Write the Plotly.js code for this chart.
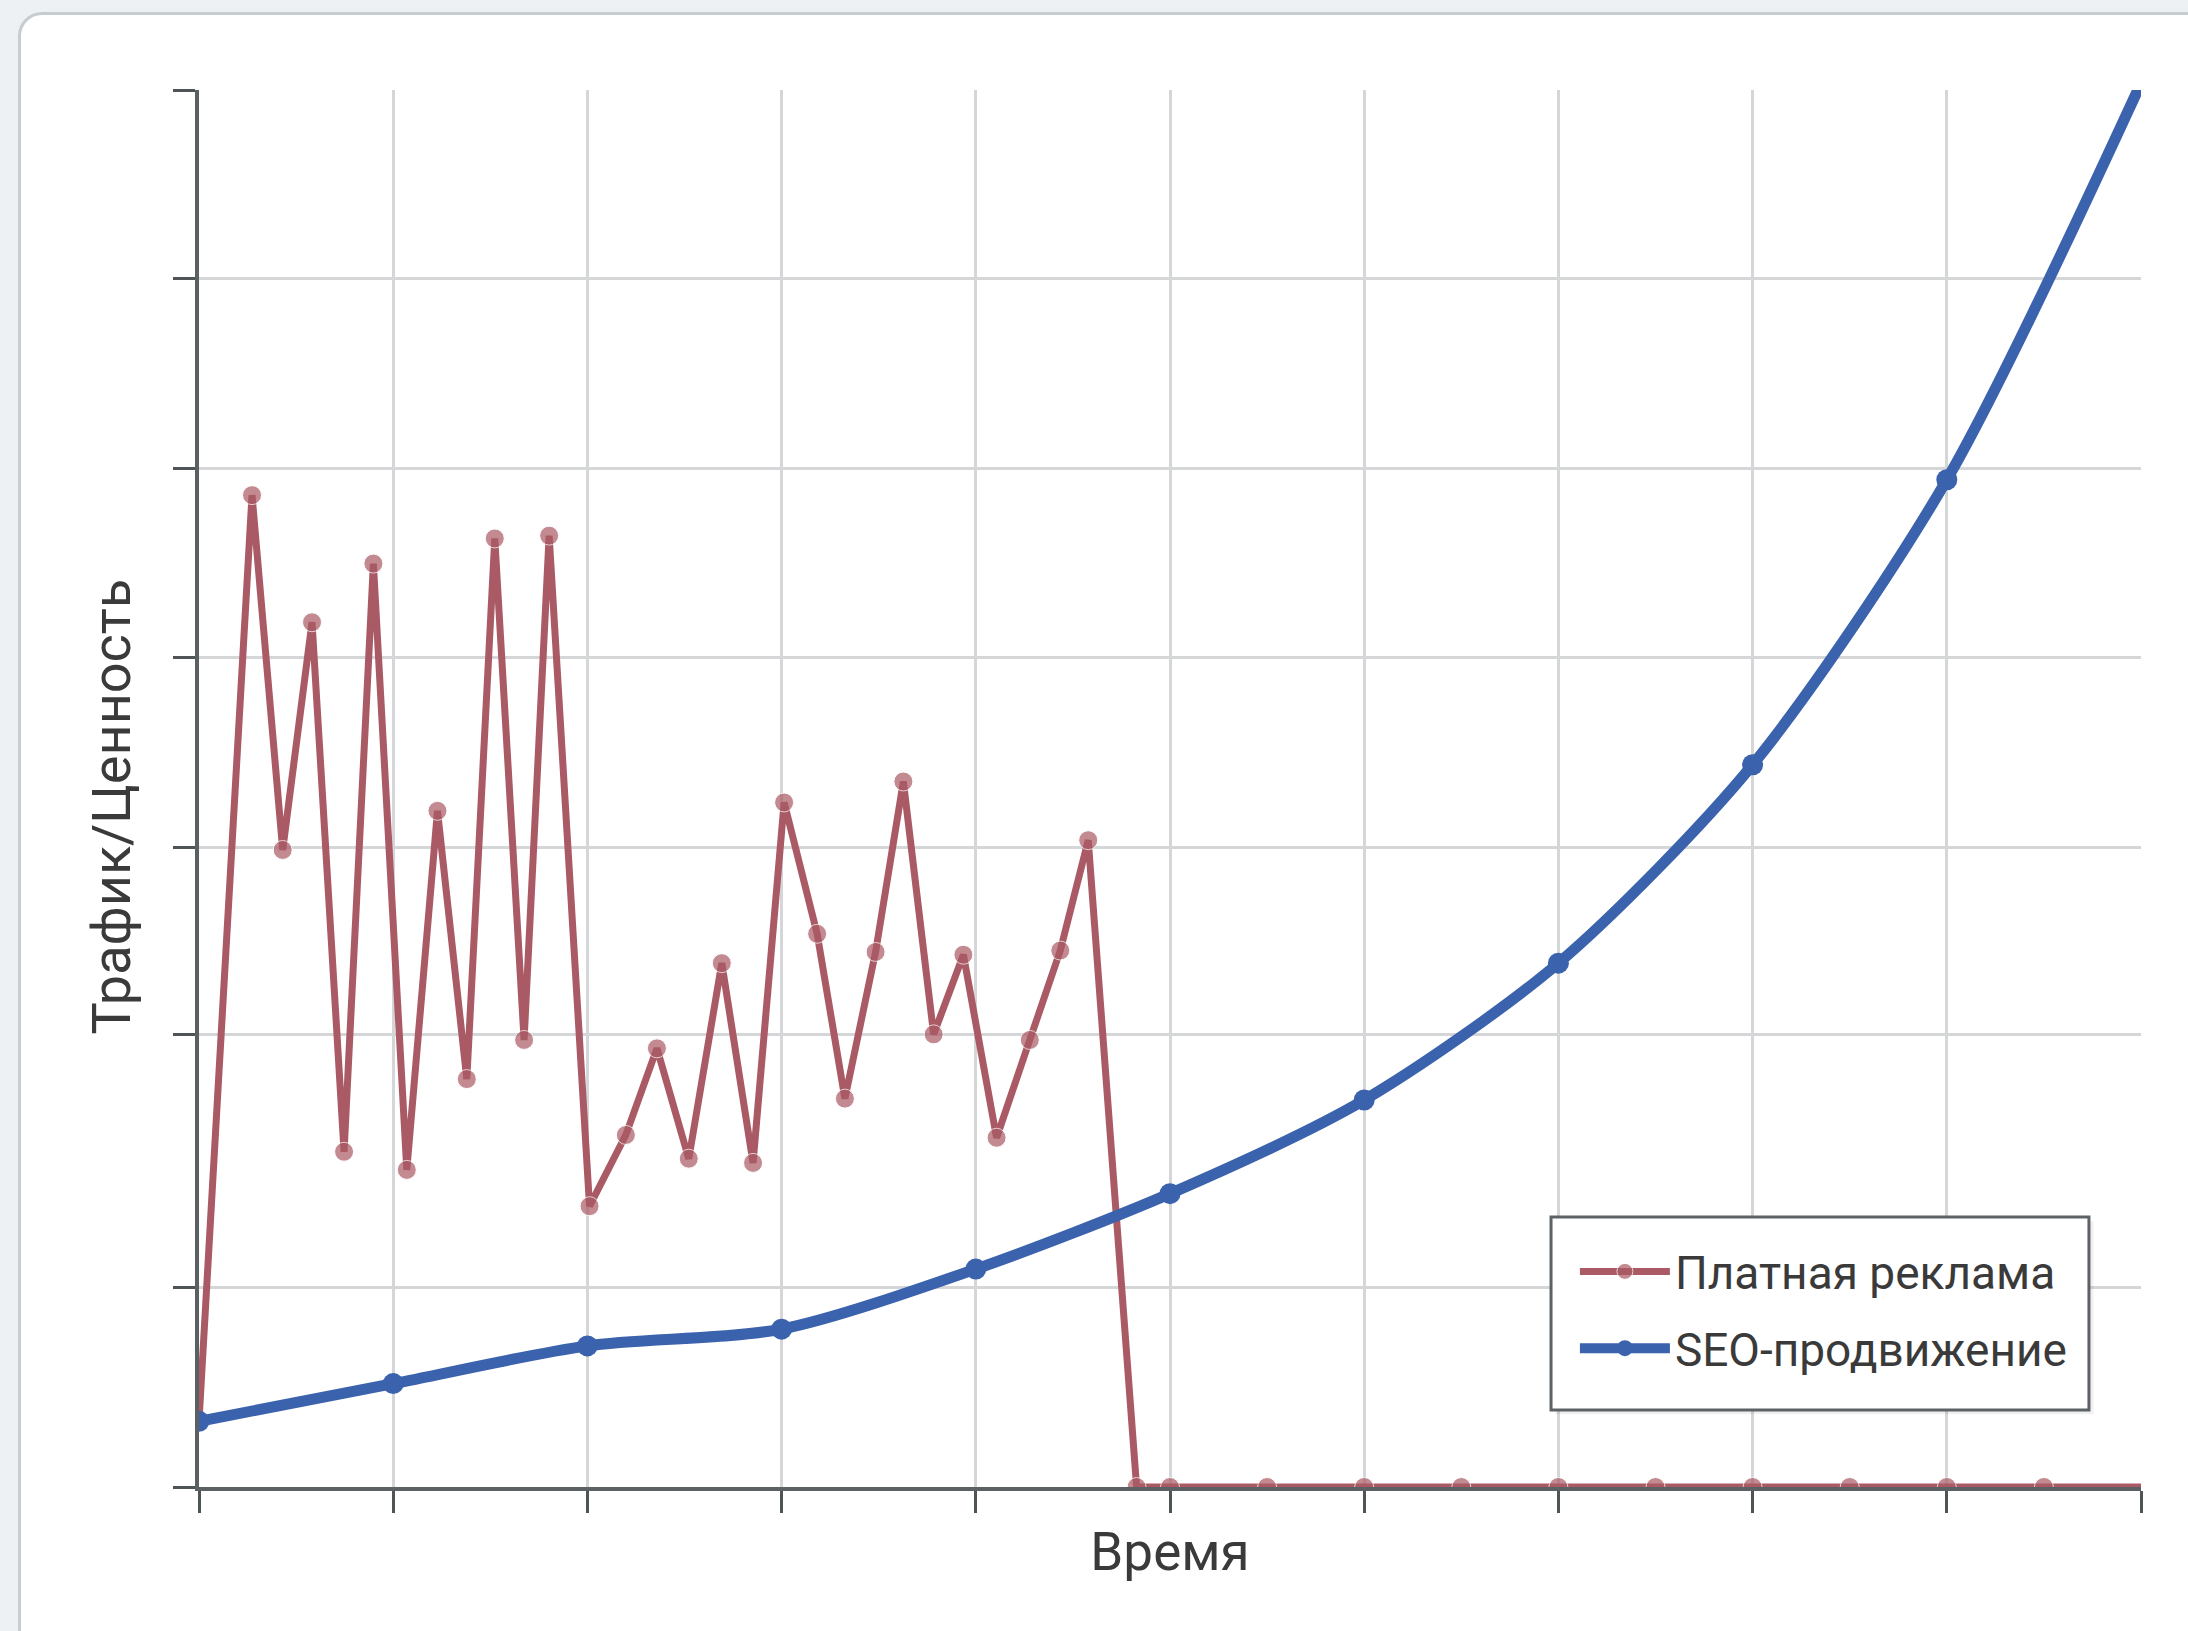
<!DOCTYPE html>
<html>
<head>
<meta charset="utf-8">
<script src="https://cdn.plot.ly/plotly-3.0.1.min.js"></script>
<style>
  html, body { margin:0; padding:0; background:#eef1f3; width:2188px; height:1631px; overflow:hidden; }
  #card { position:absolute; left:18px; top:12px; width:2200px; height:1660px; background:#ffffff;
          border:3px solid #c6cdd1; border-radius:24px; box-sizing:border-box; }
  #chart { position:absolute; left:0; top:0; width:2188px; height:1631px; }
</style>
</head>
<body>
<div id="card"></div>
<div id="chart"></div>
<script>
// --- data ---
const paidX = [0, 0.273, 0.431, 0.582, 0.747, 0.898, 1.070, 1.228, 1.379, 1.523, 1.674, 1.803,
               2.011, 2.198, 2.358, 2.522, 2.692, 2.853, 3.013, 3.183, 3.326, 3.484, 3.627, 3.783,
               3.936, 4.107, 4.278, 4.435, 4.579, 4.828, 5.0, 5.5, 6.0, 6.5, 7.0, 7.5, 8.0, 8.5, 9.0, 9.5, 10];
const paidY = [4.7, 71.0, 45.6, 61.9, 24.0, 66.1, 22.7, 48.4, 29.2, 67.9, 32.0, 68.1,
               20.1, 25.2, 31.4, 23.5, 37.5, 23.2, 49.0, 39.6, 27.8, 38.3, 50.5, 32.4,
               38.1, 25.0, 32.0, 38.4, 46.3, 0, 0, 0, 0, 0, 0, 0, 0, 0, 0, 0, 0];
const seoX = [0, 1, 2, 3, 4, 5, 6, 7, 8, 9, 10];
const seoY = [4.7, 7.4, 10.1, 11.3, 15.6, 21.0, 27.7, 37.5, 51.7, 72.1, 100.5];
const xTicks = [0, 1, 2, 3, 4, 5, 6, 7, 8, 9, 10];
const yTicks = [0, 14.3, 32.4, 45.8, 59.4, 72.9, 86.5, 100];
const seriesNames = ["Платная реклама", "SEO-продвижение"];
const xTitle = "Время";
const yTitle = "Трафик/Ценность";

const paidColor = "#aa5a64";
const seoColor = "#3b62ad";
const paidSizes = paidX.map((v, i) => i === paidX.length - 1 ? 0 : 19);

const traces = [
  { x: paidX, y: paidY, name: seriesNames[0], type: "scatter", mode: "lines+markers",
    legendgroup: "paid",
    line: { color: paidColor, width: 7 },
    marker: { color: paidColor, size: paidSizes }, cliponaxis: true },
  { x: seoX, y: seoY, name: seriesNames[1], type: "scatter", mode: "lines+markers",
    legendgroup: "seo",
    line: { color: seoColor, width: 11, shape: "spline", smoothing: 0.8 },
    marker: { color: seoColor, size: 21 }, cliponaxis: true }
];

const layout = {
  width: 2188, height: 1631,
  paper_bgcolor: "rgba(0,0,0,0)", plot_bgcolor: "#ffffff",
  margin: { l: 199, r: 47, t: 90, b: 144 },
  font: { family: "Roboto, 'Noto Sans', sans-serif", color: "#3a3a3a" },
  showlegend: true,
  legend: {
    x: 0.7085, y: 0.1804, xanchor: "left", yanchor: "top",
    bgcolor: "rgba(0,0,0,0)", borderwidth: 0,
    font: { size: 46, color: "#3a3a3a" },
    itemwidth: 90, tracegroupgap: 14
  },
  shapes: [
    { type: "rect", xref: "paper", yref: "paper", layer: "above",
      x0: 0.6985, x1: 0.9755, y0: 0.0521, y1: 0.1903,
      line: { width: 0 }, fillcolor: "rgba(0,0,0,0.06)" },
    { type: "rect", xref: "paper", yref: "paper", layer: "above",
      x0: 0.6962, x1: 0.9732, y0: 0.0551, y1: 0.1933,
      line: { color: "#5d6266", width: 3 }, fillcolor: "#ffffff" }
  ],
  xaxis: {
    range: [0, 10], tickvals: xTicks, showticklabels: false,
    ticks: "outside", ticklen: 22, tickwidth: 3, tickcolor: "#4f5457",
    showgrid: true, gridcolor: "#d4d6d8", gridwidth: 3,
    showline: true, linecolor: "#5b6063", linewidth: 4, zeroline: false,
    title: { text: xTitle, font: { size: 53, color: "#3a3a3a" }, standoff: 22 }
  },
  yaxis: {
    range: [0, 100], tickvals: yTicks, showticklabels: false,
    ticks: "outside", ticklen: 22, tickwidth: 3, tickcolor: "#4f5457",
    showgrid: true, gridcolor: "#d4d6d8", gridwidth: 3,
    showline: true, linecolor: "#5b6063", linewidth: 4, zeroline: false
  },
  annotations: [
    { text: yTitle, textangle: -90, xref: "paper", yref: "paper", x: 0, y: 0.5,
      xanchor: "center", yanchor: "middle", xshift: -88, yshift: -18, showarrow: false,
      font: { size: 54, color: "#3a3a3a" } }
  ]
};

Plotly.newPlot("chart", traces, layout, { displayModeBar: false, staticPlot: true });
</script>
</body>
</html>
